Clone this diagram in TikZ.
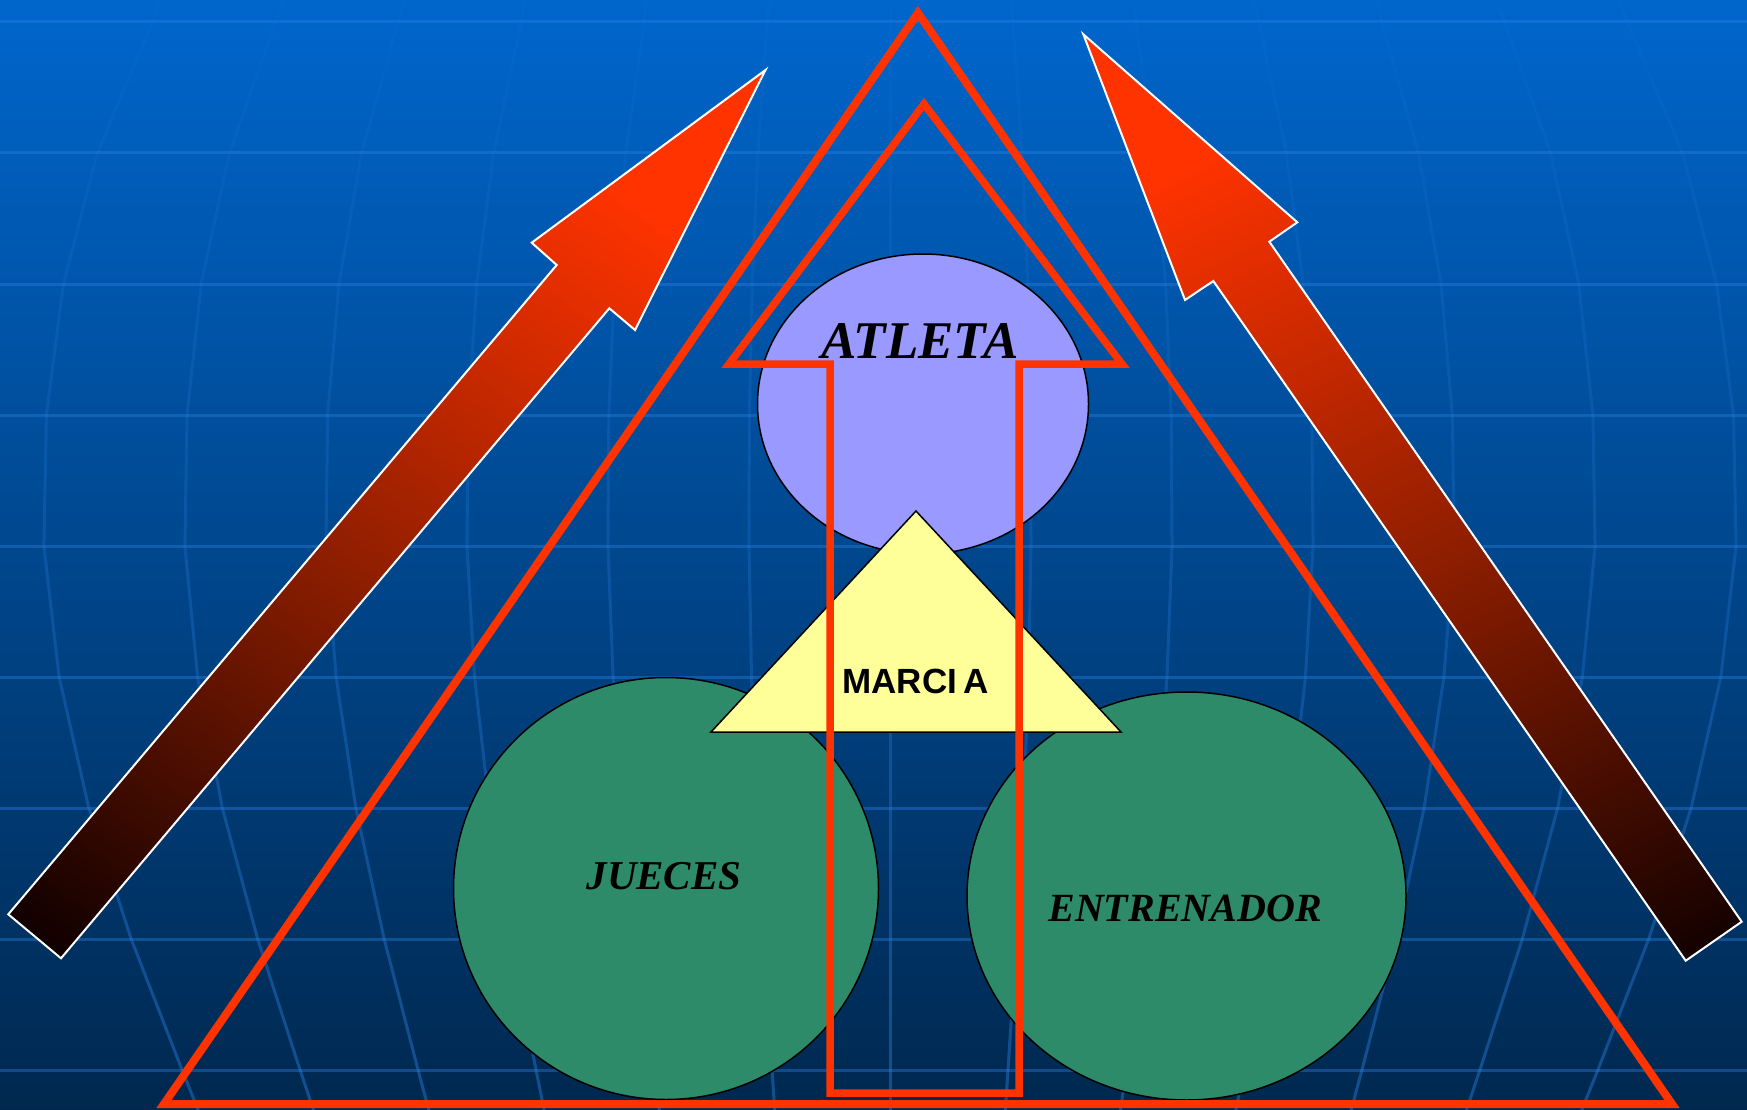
\documentclass[tikz,border=0pt]{standalone}
\usepackage{fontspec}
\setmainfont{Liberation Serif}
\newfontfamily\sansbold{Liberation Sans}
\usetikzlibrary{shapes.geometric,fadings}
\definecolor{bgtop}{HTML}{0066CC}
\definecolor{bgmid}{HTML}{004C99}
\definecolor{bgbot}{HTML}{00284F}
\definecolor{gridc}{HTML}{2A80E0}
\definecolor{redor}{HTML}{FF3300}
\definecolor{arrowmid}{HTML}{8E1E00}
\definecolor{arrowend}{HTML}{100000}
\definecolor{arrowdeep}{HTML}{080000}
\definecolor{lilac}{HTML}{9999FF}
\definecolor{paleyellow}{HTML}{FFFF99}
\definecolor{seagreen}{HTML}{2E8B69}
\pgfdeclareverticalshading{arrowshade}{100bp}{color(0bp)=(arrowdeep); color(17bp)=(arrowend); color(46bp)=(arrowmid); color(74bp)=(redor); color(100bp)=(redor)}
\tikzfading[name=merfade, top color=transparent!85, bottom color=transparent!0]
\begin{document}
\begin{tikzpicture}[x=1pt,y=-1pt,
  gridline/.style={draw=gridc, draw opacity=0.4, line width=3pt},
  meridian/.style={draw=gridc, draw opacity=0.45, line width=3pt, path fading=merfade},
  bigarrow/.style={draw=white, line width=2pt, line join=miter, shading=arrowshade},
  redline/.style={draw=redor, line width=7.5pt, line join=miter},
  blob/.style={ellipse, draw=black, line width=1.5pt, inner sep=0pt},
  serifbi/.style={font=\fontsize{40pt}{40pt}\selectfont\bfseries\itshape, text=black, inner sep=0pt, anchor=base}
]
\useasboundingbox (0,0) rectangle (1747,1110);
% background
\fill[top color=bgtop, middle color=bgmid, bottom color=bgbot] (0,0) rectangle (1747,1110);
% horizontal grid lines
\foreach \yy in {22,153,...,1070} \draw[gridline] (0,\yy) -- (1747,\yy);
% meridians
\foreach \k in {-6,...,6} {
  \draw[meridian] plot coordinates {
    ({890+141.3*\k*0.86},0) ({890+141.3*\k*0.87},22) ({890+141.3*\k*0.935},153)
    ({890+141.3*\k*0.975},284) ({890+141.3*\k*0.995},415) ({890+141.3*\k*0.998},546)
    ({890+141.3*\k*0.98},677) ({890+141.3*\k*0.945},808) ({890+141.3*\k*0.895},939)
    ({890+141.3*\k*0.835},1070) ({890+141.3*\k*0.816},1110)};
}
% big arrows
\coordinate (ltip) at (765.5,70);
\coordinate (rtip) at (1083.3,34.3);
\path[bigarrow, shading angle=-35.7] (ltip) -- (635,330) -- (609.3,308.3) -- (61,958.3) -- (8.3,914.3) -- (556.7,265) -- (531.7,242.7) -- cycle;
\path[bigarrow, shading angle=26.3] (rtip) -- (1297.3,222.3) -- (1269.3,241.7) -- (1741.7,921.7) -- (1685.7,960.7) -- (1213.3,281) -- (1185,300) -- cycle;
% ellipses
\node[blob, fill=lilac, minimum width=331pt, minimum height=300pt] (atleta) at (923,404) {};
\node[blob, fill=seagreen, minimum width=425pt, minimum height=422pt] (jueces) at (666,888.5) {};
\node[blob, fill=seagreen, minimum width=439pt, minimum height=408pt] (entrenador) at (1186.5,896) {};
% yellow triangle
\coordinate (mtop) at (916,511);
\coordinate (mleft) at (711,732);
\coordinate (mright) at (1121,732);
\draw[fill=paleyellow, draw=black, line width=1.5pt, line join=miter] (mtop) -- (mright) -- (mleft) -- cycle;
% texts
\node[serifbi, font=\fontsize{53pt}{53pt}\selectfont\bfseries\itshape] (tatleta) at (920,358.3) {ATLETA};
\node[serifbi, font=\fontsize{41pt}{41pt}\selectfont\bfseries\itshape] (tjueces) at (664,889.3) {JUECES};
\node[serifbi] (tentrenador) at (1185,921) {ENTRENADOR};
\node[inner sep=0pt, anchor=base, text=black, font=\fontsize{35pt}{35pt}\selectfont\sansbold\bfseries] (tmarcia) at (915.5,693) {MARCI\kern6ptA};
% red house outline
\draw[redline] (924,104) -- (1122,364) -- (1019,364) -- (1019,1093) -- (830,1093) -- (830,364) -- (729,364) -- cycle;
% outer triangle
\draw[redline, line width=8pt] (918,13) -- (1672,1104) -- (164,1104) -- cycle;
\end{tikzpicture}
\end{document}
